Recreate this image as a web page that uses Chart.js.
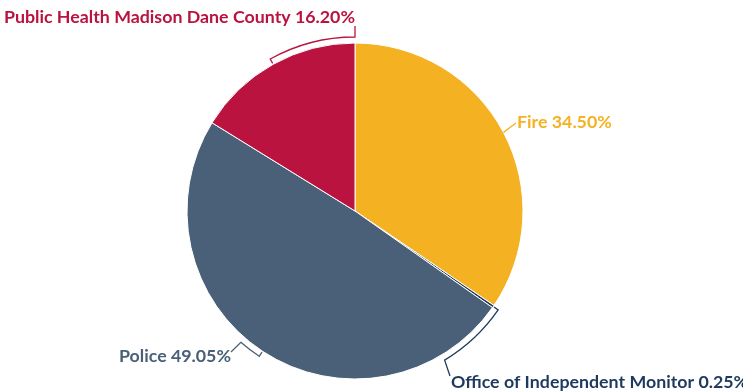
<!DOCTYPE html>
<html>
<head>
<meta charset="utf-8">
<script src="https://cdn.jsdelivr.net/npm/chart.js@4/dist/chart.umd.min.js"></script>
<style>
  html, body { margin: 0; padding: 0; background: #fff; }
  #wrap { width: 743px; height: 392px; position: relative; }
</style>
</head>
<body>
<div id="wrap"><canvas id="pie"></canvas></div>
<script>
// Budget share by agency (percent of total)
const categories = ["Fire", "Office of Independent Monitor", "Police", "Public Health Madison Dane County"];
const shares = [34.50, 0.25, 49.05, 16.20];
const sliceColors = ["#F4B223", "#1D3A5E", "#4A6079", "#BA1340"];

// Leader layout per slice: bracket arc end (compass degrees), elbow point and text anchor
// relative to the pie centre.
const leaders = [
  { kind: "line", end: [161, -88], text: [162, -89], align: "left" },
  { kind: "bracket", arcTo: 149, end: [95, 165], text: [96, 171], align: "left" },
  { kind: "bracket", arcTo: 221, end: [-124, 141], text: [-124, 145], align: "right" },
  { kind: "bracket", arcTo: 360, end: [0, -185], text: [0, -194], align: "right" }
];

const labelFont = "700 17.8px Lato";

const leaderPlugin = {
  id: "leaderLabels",
  afterDatasetsDraw(chart) {
    const ctx = chart.ctx;
    const meta = chart.getDatasetMeta(0);
    meta.data.forEach((arc, i) => {
      const { x, y, startAngle, endAngle, outerRadius } = arc.getProps(["x", "y", "startAngle", "endAngle", "outerRadius"], true);
      const mid = (startAngle + endAngle) / 2;
      const spec = leaders[i];
      const color = sliceColors[i];
      const rb = outerRadius + 6;
      const path = () => {
        ctx.beginPath();
        if (spec.kind === "line") {
          ctx.moveTo(x + outerRadius * Math.cos(mid), y + outerRadius * Math.sin(mid));
          ctx.lineTo(x + spec.end[0], y + spec.end[1]);
        } else {
          const to = (spec.arcTo - 90) * Math.PI / 180;
          ctx.moveTo(x + (outerRadius + 1) * Math.cos(mid), y + (outerRadius + 1) * Math.sin(mid));
          ctx.lineTo(x + rb * Math.cos(mid), y + rb * Math.sin(mid));
          ctx.arc(x, y, rb, mid, to, to < mid);
          ctx.lineTo(x + spec.end[0], y + spec.end[1]);
        }
      };
      ctx.save();
      ctx.lineJoin = "miter";
      ctx.strokeStyle = "#ffffff";
      ctx.lineWidth = 3.5;
      path();
      ctx.stroke();
      ctx.strokeStyle = color;
      ctx.lineWidth = 1.3;
      path();
      ctx.stroke();
      ctx.font = labelFont;
      ctx.fillStyle = color;
      ctx.textAlign = spec.align;
      ctx.textBaseline = "middle";
      ctx.fillText(categories[i] + " " + shares[i].toFixed(2) + "%", x + spec.text[0], y + spec.text[1]);
      ctx.restore();
    });
  }
};

new Chart(document.getElementById("pie"), {
  type: "pie",
  data: {
    labels: categories,
    datasets: [{
      data: shares,
      backgroundColor: sliceColors,
      borderColor: "#ffffff",
      borderWidth: 1
    }]
  },
  options: {
    responsive: true,
    maintainAspectRatio: false,
    animation: false,
    radius: 168,
    layout: { padding: { left: 0, right: 33, top: 30, bottom: 0 } },
    plugins: {
      legend: { display: false },
      tooltip: { enabled: false }
    }
  },
  plugins: [leaderPlugin]
});
</script>
</body>
</html>
